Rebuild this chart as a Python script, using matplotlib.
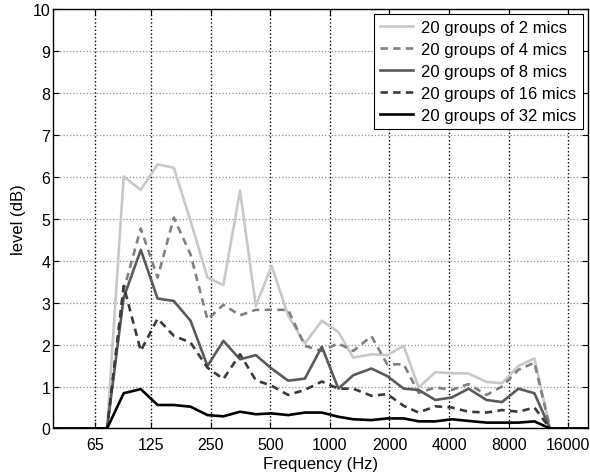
import matplotlib
matplotlib.use("Agg")
import matplotlib.pyplot as plt
from matplotlib.ticker import FixedLocator, FixedFormatter, NullLocator

plt.rcParams["font.family"] = ["Liberation Sans", "DejaVu Sans"]

# band centre frequencies (Hz)
freqs = [35, 42, 51, 62, 75, 91, 111, 135, 163, 198, 241, 290, 352, 423, 508,
         616, 748, 911, 1104, 1313, 1622, 1949, 2360, 2808, 3408, 4132, 5016,
         6181, 7397, 8959, 10785, 12940, 15630, 18930, 22900]

mics2 = [0, 0, 0, 0, 0, 6.01, 5.69, 6.30, 6.22, 4.95, 3.60, 3.42, 5.67, 2.92,
         3.88, 2.69, 2.03, 2.57, 2.30, 1.69, 1.77, 1.75, 1.97, 0.98, 1.34, 1.32,
         1.31, 1.11, 1.08, 1.49, 1.67, 0, 0, 0, 0]
mics4 = [0, 0, 0, 0, 0, 3.30, 4.77, 3.60, 5.03, 4.15, 2.60, 2.95, 2.70, 2.83,
         2.83, 2.83, 1.97, 1.85, 2.03, 1.85, 2.20, 1.53, 1.53, 0.85, 0.98, 0.92,
         1.06, 0.80, 1.00, 1.40, 1.57, 0, 0, 0, 0]
mics8 = [0, 0, 0, 0, 0, 3.12, 4.26, 3.10, 3.04, 2.57, 1.49, 2.09, 1.65, 1.75,
         1.43, 1.14, 1.19, 1.95, 0.95, 1.27, 1.43, 1.25, 0.95, 0.92, 0.68, 0.74,
         0.95, 0.68, 0.63, 0.95, 0.84, 0, 0, 0, 0]
mics16 = [0, 0, 0, 0, 0, 3.40, 1.85, 2.62, 2.21, 2.05, 1.45, 1.18, 1.77, 1.15,
          1.02, 0.80, 0.92, 1.12, 0.95, 0.95, 0.78, 0.82, 0.54, 0.38, 0.53, 0.50,
          0.40, 0.38, 0.44, 0.40, 0.50, 0, 0, 0, 0]
mics32 = [0, 0, 0, 0, 0, 0.84, 0.94, 0.56, 0.56, 0.52, 0.32, 0.29, 0.40, 0.34,
          0.36, 0.32, 0.38, 0.38, 0.28, 0.22, 0.20, 0.24, 0.24, 0.17, 0.17, 0.22,
          0.18, 0.14, 0.14, 0.14, 0.17, 0, 0, 0, 0]

labels = ["20 groups of 2 mics", "20 groups of 4 mics", "20 groups of 8 mics",
          "20 groups of 16 mics", "20 groups of 32 mics"]
xticks = [65, 125, 250, 500, 1000, 2000, 4000, 8000, 16000]
yticks = list(range(0, 11))

fig = plt.figure(figsize=(5.9, 4.77), dpi=100)
ax = fig.add_axes([0.0898, 0.0996, 0.906, 0.879])

styles = [
    ("#c8c8c8", "-"),
    ("#808080", "--"),
    ("#5a5a5a", "-"),
    ("#3a3a3a", "--"),
    ("#000000", "-"),
]
for vals, lab, (col, ls) in zip([mics2, mics4, mics8, mics16, mics32], labels, styles):
    line, = ax.plot(freqs, vals, color=col, linestyle=ls, linewidth=1.9, label=lab)
    if ls == "--":
        line.set_dashes((2.8, 2.0))

ax.set_xscale("log")
ax.set_xlim(40, 20000)
ax.set_ylim(0, 10)
ax.xaxis.set_major_locator(FixedLocator(xticks))
ax.xaxis.set_major_formatter(FixedFormatter([str(t) for t in xticks]))
ax.xaxis.set_minor_locator(NullLocator())
ax.set_yticks(yticks)

ax.tick_params(direction="in", top=True, right=True, length=4, width=0.8,
               labelsize=11.5)
ax.tick_params(axis="x", pad=6)
ax.tick_params(axis="y", pad=2)
ax.xaxis.grid(True, linestyle=":", color="black", linewidth=1.0)
ax.yaxis.grid(True, linestyle=":", color="#909090", linewidth=0.9)
for sp in ax.spines.values():
    sp.set_linewidth(1.0)

ax.set_xlabel("Frequency (Hz)", fontsize=12, labelpad=3)
ax.set_ylabel("level (dB)", fontsize=12, labelpad=5)

leg = ax.legend(loc="upper right", fontsize=12, handlelength=2.0,
                handletextpad=0.5, labelspacing=0.42, borderpad=0.35,
                borderaxespad=0.3, fancybox=False, framealpha=1)
leg.get_frame().set_edgecolor("black")
leg.get_frame().set_linewidth(0.8)

fig.savefig("out.png", dpi=100)
